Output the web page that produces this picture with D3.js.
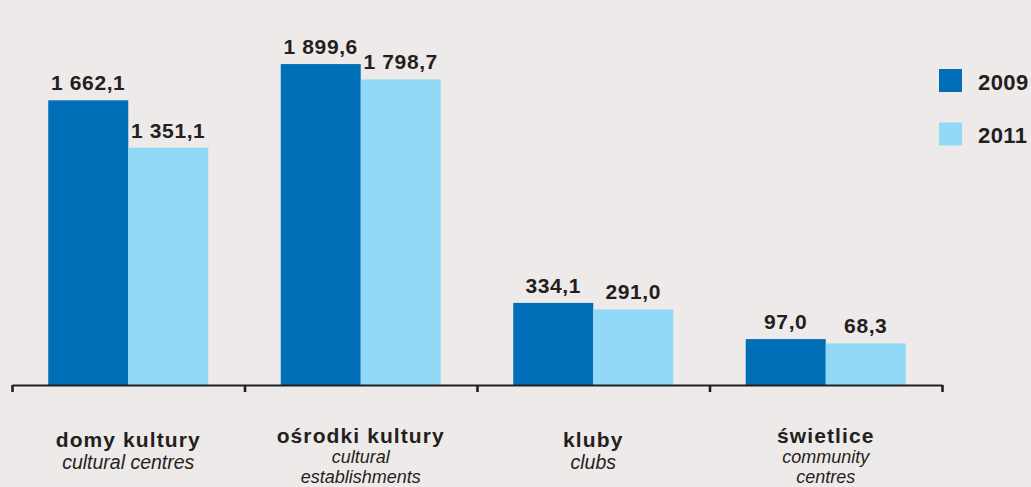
<!DOCTYPE html>
<html>
<head>
<meta charset="utf-8">
<script src="https://cdn.jsdelivr.net/npm/d3@7"></script>
<style>
  html, body { margin: 0; padding: 0; background: #EEEAE9; }
  svg { display: block; }
  text { font-family: "Liberation Sans", Arial, sans-serif; fill: #231F20; }
</style>
</head>
<body>
<svg id="chart" width="1031" height="487"></svg>
<script>
const categories = ["domy kultury", "ośrodki kultury", "kluby", "świetlice"];
const subtitles = [["cultural centres"], ["cultural", "establishments"], ["clubs"], ["community", "centres"]];
const seriesNames = ["2009", "2011"];
const values2009 = [1662.1, 1899.6, 334.1, 97.0];
const values2011 = [1351.1, 1798.7, 291.0, 68.3];
const colors = ["#006FB8", "#92D9F8"];

const svg = d3.select("#chart");
const baseY = 385;

const x0 = d3.scaleBand().domain(categories).range([12, 942]).paddingInner(0).paddingOuter(0);
const x1 = d3.scaleBand().domain(seriesNames).range([0, x0.bandwidth()]).paddingInner(0).paddingOuter(0.453);
const y = d3.scaleLinear().domain([-204, 1900]).range([baseY, 64]);

const fmt = v => {
  const s = v.toFixed(1).replace(".", ",");
  const [intPart, dec] = s.split(",");
  return intPart.replace(/\B(?=(\d{3})+(?!\d))/g, " ") + "," + dec;
};

const data = categories.map((c, i) => ({
  cat: c,
  vals: [{ s: "2009", v: values2009[i] }, { s: "2011", v: values2011[i] }]
}));

const groups = svg.selectAll("g.grp").data(data).enter().append("g")
  .attr("class", "grp")
  .attr("transform", d => `translate(${x0(d.cat)},0)`);

groups.selectAll("rect").data(d => d.vals).enter().append("rect")
  .attr("x", d => x1(d.s))
  .attr("width", x1.bandwidth())
  .attr("y", d => y(d.v))
  .attr("height", d => baseY - y(d.v))
  .attr("fill", (d, i) => colors[i]);

groups.selectAll("text.val").data(d => d.vals).enter().append("text")
  .attr("class", "val")
  .attr("x", d => x1(d.s) + x1.bandwidth() / 2)
  .attr("y", d => y(d.v) - 10)
  .attr("text-anchor", "middle")
  .style("font-weight", "bold")
  .style("font-size", "21px")
  .style("letter-spacing", "0.6px")
  .text(d => fmt(d.v));

// axis with ticks at category boundaries
const edge = d3.scaleLinear().domain([0, categories.length]).range(x0.range());
const axis = d3.axisBottom(edge).tickValues(d3.range(0, categories.length + 1))
  .tickFormat("").tickSizeOuter(0).tickSizeInner(7);
const ax = svg.append("g").attr("transform", `translate(0,${baseY})`).call(axis);
ax.select(".domain").attr("stroke", "#231F20").attr("stroke-width", 2.2);
ax.selectAll(".tick line").attr("stroke", "#231F20").attr("stroke-width", 2.6);

// category labels
const labels = svg.selectAll("g.lab").data(categories).enter().append("g")
  .attr("class", "lab")
  .attr("transform", d => `translate(${x0(d) + x0.bandwidth() / 2},0)`);
labels.append("text")
  .attr("y", (d, i) => subtitles[i].length > 1 ? 442.5 : 446.5)
  .attr("text-anchor", "middle")
  .style("font-weight", "bold")
  .style("font-size", "21px")
  .style("letter-spacing", "1.1px")
  .text(d => d);
labels.each(function (d, i) {
  const n = subtitles[i].length;
  subtitles[i].forEach((line, j) => {
    d3.select(this).append("text")
      .attr("y", n > 1 ? 462.5 + j * 20 : 468.5)
      .attr("text-anchor", "middle")
      .style("font-style", "italic")
      .style("font-size", n > 1 ? "18px" : "19.5px")
      .text(line);
  });
});

// legend
const legend = svg.selectAll("g.leg").data(seriesNames).enter().append("g")
  .attr("class", "leg")
  .attr("transform", (d, i) => `translate(939,${69 + i * 53.5})`);
legend.append("rect").attr("width", 23).attr("height", 23).attr("fill", (d, i) => colors[i]);
legend.append("text").attr("x", 39).attr("y", 20.5)
  .style("font-weight", "bold").style("font-size", "22px").style("letter-spacing", "0.4px")
  .text(d => d);
</script>
</body>
</html>
